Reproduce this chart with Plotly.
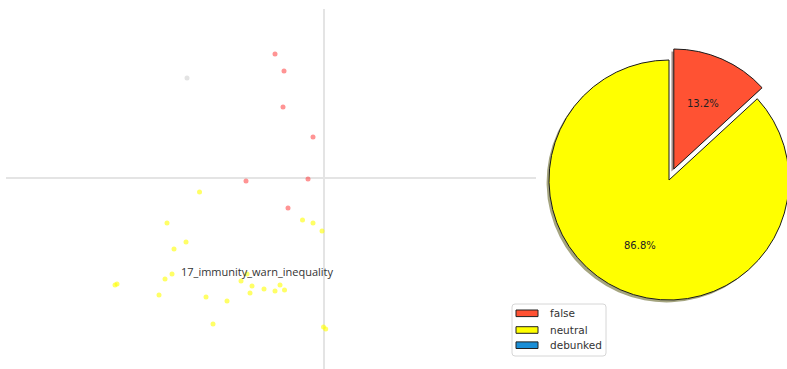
import math
import plotly.graph_objects as go

# ---- scatter data (2-D projection of the items) ----
false_x = [-0.49, -0.40, -0.41, -0.11, -0.78, -0.16, -0.36]
false_y = [1.24, 1.07, 0.71, 0.41, -0.03, -0.01, -0.30]

other_x = [-1.37]
other_y = [1.00]

neutral_x = [-1.245, -1.57, -0.215, -0.11, -0.02, -1.38, -1.50, -1.52, -1.59,
             -2.09, -2.07, -1.65, -1.18, -0.97, -0.83, -0.77, -0.72, -0.74,
             -0.60, -0.49, -0.44, -0.395, -1.11, -0.005, 0.017]
neutral_y = [-0.14, -0.45, -0.42, -0.45, -0.53, -0.64, -0.71, -0.96, -1.01,
             -1.07, -1.06, -1.17, -1.19, -1.23, -1.03, -0.96, -1.08, -1.15,
             -1.11, -1.13, -1.07, -1.12, -1.46, -1.49, -1.51]

topic_label = "17_immunity_warn_inequality"
topic_x, topic_y = -0.67, -0.937

# ---- pie data ----
categories = ["false", "neutral", "debunked"]
counts = [5, 33, 0]
colors = ["#ff5233", "#ffff00", "#1a8ed6"]

W, H = 800, 369


def px(xp):
    return xp / W


def py(yp):
    return 1 - yp / H


fig = go.Figure()

# scatter of items
fig.add_trace(go.Scatter(x=other_x, y=other_y, mode="markers",
                         marker=dict(size=5, color="#c8c8c8", opacity=0.5),
                         hoverinfo="skip", showlegend=False))
fig.add_trace(go.Scatter(x=false_x, y=false_y, mode="markers",
                         marker=dict(size=5, color="#ff2a2a", opacity=0.5),
                         hoverinfo="skip", showlegend=False))
fig.add_trace(go.Scatter(x=neutral_x, y=neutral_y, mode="markers",
                         marker=dict(size=5, color="#ffff00", opacity=0.6),
                         hoverinfo="skip", showlegend=False))

fig.add_annotation(x=topic_x, y=topic_y, xref="x", yref="y", text=topic_label,
                   showarrow=False, xanchor="center", yanchor="middle",
                   font=dict(family="Open Sans", size=11, color="#333"))

# ---- pie (matplotlib-style: exploded first wedge, drop shadow) ----
vals = [v for v in counts if v > 0]
cols = [c for c, v in zip(colors, counts) if v > 0]
total = sum(vals)
n = len(vals)

R = 120.0
CX, CY = 669.0, 180.0
explode = [0.1] + [0.0] * (n - 1)
transparent = "rgba(0,0,0,0)"

start = 0.0
centers = []
mids = []
for v, e in zip(vals, explode):
    frac = v / total
    mid = (start + frac / 2) * 2 * math.pi
    mids.append(mid)
    centers.append((CX + e * R * math.sin(mid), CY - e * R * math.cos(mid)))
    start += frac


def shade(hexcol):
    r = int(hexcol[1:3], 16) * 0.3
    g = int(hexcol[3:5], 16) * 0.3
    b = int(hexcol[5:7], 16) * 0.3
    return f"rgba({r:.0f},{g:.0f},{b:.0f},0.5)"


def wedge_trace(i, cx, cy, color, line_w):
    mc = [transparent] * n
    mc[i] = color
    lw = [0] * n
    lw[i] = line_w
    return go.Pie(values=vals, sort=False, direction="clockwise", rotation=0,
                  marker=dict(colors=mc, line=dict(color="#1a1a1a", width=lw)),
                  textinfo="none", hoverinfo="skip", showlegend=False,
                  domain=dict(x=[px(cx - R), px(cx + R)], y=[py(cy + R), py(cy - R)]))


# shadows first
for i in range(n):
    cx, cy = centers[i]
    fig.add_trace(wedge_trace(i, cx - 2.4, cy + 2.4, shade(cols[i]), 0))
for i in range(n):
    cx, cy = centers[i]
    fig.add_trace(wedge_trace(i, cx, cy, cols[i], 1))

# percentage labels at 0.6 R
for i in range(n):
    cx, cy = centers[i]
    tx = cx + 0.6 * R * math.sin(mids[i])
    ty = cy - 0.6 * R * math.cos(mids[i])
    fig.add_annotation(x=px(tx), y=py(ty), xref="paper", yref="paper",
                       xanchor="center", yanchor="middle",
                       text=f"{100 * vals[i] / total:.1f}%", showarrow=False,
                       font=dict(family="DejaVu Sans", size=10, color="#222"))

# ---- legend box ----
LX0, LX1, LY0, LY1 = 512, 606, 304, 356
rr = 3
path = (f"M {px(LX0 + rr)},{py(LY0)} L {px(LX1 - rr)},{py(LY0)} "
        f"Q {px(LX1)},{py(LY0)} {px(LX1)},{py(LY0 + rr)} "
        f"L {px(LX1)},{py(LY1 - rr)} Q {px(LX1)},{py(LY1)} {px(LX1 - rr)},{py(LY1)} "
        f"L {px(LX0 + rr)},{py(LY1)} Q {px(LX0)},{py(LY1)} {px(LX0)},{py(LY1 - rr)} "
        f"L {px(LX0)},{py(LY0 + rr)} Q {px(LX0)},{py(LY0)} {px(LX0 + rr)},{py(LY0)} Z")
fig.add_shape(type="path", path=path, xref="paper", yref="paper",
              line=dict(color="#d6d6d6", width=1), fillcolor="rgba(255,255,255,0.85)")
row_y = [313.3, 330.0, 345.2]
for name, c, ry in zip(categories, colors, row_y):
    fig.add_shape(type="rect", xref="paper", yref="paper",
                  x0=px(516), x1=px(538), y0=py(ry + 3.3), y1=py(ry - 3.3),
                  line=dict(color="#222", width=1), fillcolor=c)
    fig.add_annotation(x=px(548), y=py(ry), xref="paper", yref="paper", text=name,
                       showarrow=False, xanchor="left", yanchor="middle",
                       font=dict(family="DejaVu Sans", size=10.5, color="#333"))

ax_common = dict(showgrid=False, showticklabels=False, ticks="", showline=False,
                 zeroline=True, zerolinecolor="#e4e4e4", zerolinewidth=2)
fig.update_layout(
    width=W, height=H, margin=dict(l=0, r=0, t=0, b=0),
    paper_bgcolor="white", plot_bgcolor="white",
    xaxis=dict(domain=[px(6), px(536)], range=[-3.18, 2.12], **ax_common),
    yaxis=dict(domain=[0, py(9)], range=[-1.91, 1.69], **ax_common),
)

fig.write_html("out.html",
               post_script="document.documentElement.style.overflow='hidden';"
                           "document.body.style.overflow='hidden';")
